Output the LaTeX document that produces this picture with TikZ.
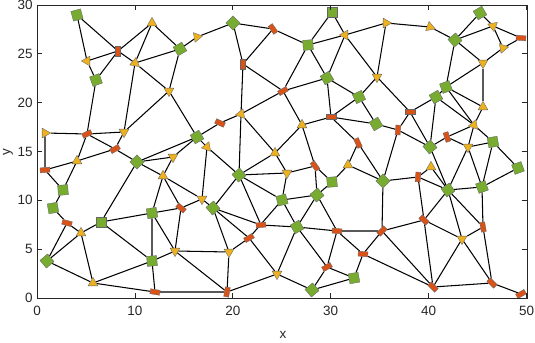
\documentclass[tikz,border=0pt]{standalone}
\usepackage{fontspec}
\setmainfont{Liberation Sans}
\usetikzlibrary{shapes.geometric,backgrounds}

\definecolor{mgreen}{rgb}{0.466,0.674,0.188}
\definecolor{mred}{rgb}{0.850,0.325,0.098}
\definecolor{myellow}{rgb}{0.929,0.694,0.125}
\definecolor{axgray}{rgb}{0.15,0.15,0.15}

\begin{document}
\begin{tikzpicture}[
        x=0.03cm, y=-0.03cm,
        gsq/.style={
            rectangle,
            draw=black!60,
            fill=mgreen,
            line width=0.3pt,
            minimum size=0.3cm,
            inner sep=0pt
        },
        rbox/.style={
            rectangle,
            draw=black!60,
            fill=mred,
            line width=0.3pt,
            minimum width=0.29cm,
            minimum height=0.15cm,
            inner sep=0pt
        },
        ytri/.style={
            regular polygon,
            regular polygon sides=3,
            draw=black!60,
            fill=myellow,
            line width=0.3pt,
            minimum size=0.34cm,
            inner sep=0pt
        },
        edge/.style={line width=0.9pt},
        axis/.style={axgray, line width=0.65pt},
        ticklab/.style={font=\fontsize{11.5}{13}\selectfont, text=axgray, inner sep=1pt}
    ]
    \useasboundingbox (0,0) rectangle (535,343);

    % Nodos verdes
    \node[gsq, rotate=15] (g1)  at (77,15)   {};
    \node[gsq, rotate=30] (g2)  at (180,49)  {};
    \node[gsq, rotate=20] (g3)  at (96,80)   {};
    \node[gsq, rotate=45] (g4)  at (233,23)  {};
    \node[gsq, rotate=0]  (g5)  at (332,12)  {};
    \node[gsq, rotate=5]  (g6)  at (308,45)  {};
    \node[gsq, rotate=30] (g7)  at (327,78)  {};
    \node[gsq, rotate=25] (g8)  at (359,97)  {};
    \node[gsq, rotate=30] (g9)  at (376,124) {};
    \node[gsq, rotate=30] (g10) at (480,13)  {};
    \node[gsq, rotate=40] (g11) at (455,40)  {};
    \node[gsq, rotate=20] (g12) at (446,87)  {};
    \node[gsq, rotate=30] (g13) at (436,97)  {};
    \node[gsq, rotate=10] (g14) at (493,142) {};
    \node[gsq, rotate=40] (g15) at (430,147) {};
    \node[gsq, rotate=20] (g16) at (518,168) {};
    \node[gsq, rotate=35] (g17) at (448,190) {};
    \node[gsq, rotate=20] (g18) at (482,187) {};
    \node[gsq, rotate=45] (g19) at (383,181) {};
    \node[gsq, rotate=5]  (g20) at (332,182) {};
    \node[gsq, rotate=40] (g21) at (317,195) {};
    \node[gsq, rotate=15] (g22) at (282,200) {};
    \node[gsq, rotate=40] (g23) at (239,175) {};
    \node[gsq, rotate=30] (g24) at (197,137) {};
    \node[gsq, rotate=45] (g25) at (137,162) {};
    \node[gsq, rotate=5]  (g26) at (63,190)  {};
    \node[gsq, rotate=10] (g27) at (53,208)  {};
    \node[gsq, rotate=0]  (g28) at (101,222) {};
    \node[gsq, rotate=10] (g29) at (152,213) {};
    \node[gsq, rotate=40] (g30) at (213,208) {};
    \node[gsq, rotate=40] (g31) at (47,261)  {};
    \node[gsq, rotate=5]  (g32) at (152,261) {};
    \node[gsq, rotate=30] (g33) at (297,227) {};
    \node[gsq, rotate=10] (g34) at (354,278) {};
    \node[gsq, rotate=40] (g35) at (312,290) {};

    % Nodos rojos
    \node[rbox, rotate=90]  (r1)  at (118,51)  {};
    \node[rbox, rotate=-55] (r2)  at (273,29)  {};
    \node[rbox, rotate=90]  (r3)  at (243,64)  {};
    \node[rbox, rotate=30]  (r4)  at (283,91)  {};
    \node[rbox, rotate=0]   (r5)  at (331,117) {};
    \node[rbox, rotate=0]   (r6)  at (410,112) {};
    \node[rbox, rotate=-5]  (r7)  at (521,38)  {};
    \node[rbox, rotate=85]  (r8)  at (398,130) {};
    \node[rbox, rotate=-72] (r9)  at (447,137) {};
    \node[rbox, rotate=-65] (r10) at (358,143) {};
    \node[rbox, rotate=-55] (r11) at (315,166) {};
    \node[rbox, rotate=85]  (r12) at (418,177) {};
    \node[rbox, rotate=-25] (r13) at (220,123) {};
    \node[rbox, rotate=25]  (r14) at (87,134)  {};
    \node[rbox, rotate=30]  (r15) at (115,149) {};
    \node[rbox, rotate=5]   (r16) at (45,170)  {};
    \node[rbox, rotate=-15] (r17) at (67,223)  {};
    \node[rbox, rotate=-40] (r18) at (181,208) {};
    \node[rbox, rotate=-10] (r19) at (155,292) {};
    \node[rbox, rotate=5]   (r20) at (261,225) {};
    \node[rbox, rotate=30]  (r21) at (249,238) {};
    \node[rbox, rotate=80]  (r22) at (227,292) {};
    \node[rbox, rotate=-5]  (r23) at (337,231) {};
    \node[rbox, rotate=-5]  (r24) at (363,254) {};
    \node[rbox, rotate=30]  (r25) at (327,267) {};
    \node[rbox, rotate=45]  (r26) at (382,231) {};
    \node[rbox, rotate=-45] (r27) at (424,220) {};
    \node[rbox, rotate=-80] (r28) at (483,227) {};
    \node[rbox, rotate=-45] (r29) at (433,287) {};
    \node[rbox, rotate=-45] (r30) at (492,283) {};
    \node[rbox, rotate=30]  (r31) at (521,294) {};

    % Nodos amarillos
    \node[ytri, rotate=0]   (y1)  at (152,23)  {};
    \node[ytri, rotate=160] (y2)  at (197,37)  {};
    \node[ytri, rotate=90]  (y3)  at (87,61)   {};
    \node[ytri, rotate=110] (y4)  at (135,63)  {};
    \node[ytri, rotate=180] (y5)  at (169,91)  {};
    \node[ytri, rotate=-30] (y6)  at (345,35)  {};
    \node[ytri, rotate=180] (y7)  at (377,77)  {};
    \node[ytri, rotate=150] (y8)  at (386,23)  {};
    \node[ytri, rotate=10]  (y9)  at (430,27)  {};
    \node[ytri, rotate=190] (y10) at (493,26)  {};
    \node[ytri, rotate=40]  (y11) at (503,48)  {};
    \node[ytri, rotate=60]  (y12) at (483,63)  {};
    \node[ytri, rotate=0]   (y13) at (483,107) {};
    \node[ytri, rotate=-20] (y14) at (474,125) {};
    \node[ytri, rotate=180] (y15) at (468,147) {};
    \node[ytri, rotate=0]   (y16) at (431,167) {};
    \node[ytri, rotate=0]   (y17) at (348,165) {};
    \node[ytri, rotate=0]   (y18) at (302,125) {};
    \node[ytri, rotate=0]   (y19) at (275,153) {};
    \node[ytri, rotate=180] (y20) at (287,173) {};
    \node[ytri, rotate=100] (y21) at (241,114) {};
    \node[ytri, rotate=-20] (y22) at (207,147) {};
    \node[ytri, rotate=150] (y23) at (45,133)  {};
    \node[ytri, rotate=180] (y24) at (124,132) {};
    \node[ytri, rotate=180] (y25) at (173,157) {};
    \node[ytri, rotate=0]   (y26) at (77,161)  {};
    \node[ytri, rotate=0]   (y27) at (163,176) {};
    \node[ytri, rotate=180] (y28) at (202,199) {};
    \node[ytri, rotate=0]   (y29) at (81,233)  {};
    \node[ytri, rotate=180] (y30) at (175,251) {};
    \node[ytri, rotate=0]   (y31) at (93,283)  {};
    \node[ytri, rotate=180] (y32) at (229,252) {};
    \node[ytri, rotate=180] (y33) at (277,274) {};
    \node[ytri, rotate=180] (y34) at (462,239) {};

    % Aristas
    \begin{pgfonlayer}{background}
    \draw[edge] (g1) -- (r1) (g1) -- (y3);
    \draw[edge] (y3) -- (r1) (y3) -- (g3);
    \draw[edge] (r1) -- (g3) (r1) -- (y4) (r1) -- (y1);
    \draw[edge] (y1) -- (y4) (y1) -- (g2);
    \draw[edge] (g2) -- (y4) (g2) -- (y5) (g2) -- (y2);
    \draw[edge] (y4) -- (y5) (y4) -- (y24);
    \draw[edge] (y5) -- (y24) (y5) -- (g24);
    \draw[edge] (g3) -- (r14);
    \draw[edge] (y2) -- (g4);
    \draw[edge] (g4) -- (r2) (g4) -- (r3);
    \draw[edge] (r2) -- (r3) (r2) -- (g6);
    \draw[edge] (g5) -- (g6) (g5) -- (y6);
    \draw[edge] (g6) -- (y6) (g6) -- (g7) (g6) -- (r4);
    \draw[edge] (y6) -- (g7) (y6) -- (y7) (y6) -- (y8);
    \draw[edge] (r3) -- (r4) (r3) -- (y21);
    \draw[edge] (r4) -- (y21) (r4) -- (y18) (r4) -- (g7);
    \draw[edge] (g7) -- (g8) (g7) -- (r5);
    \draw[edge] (g8) -- (r5) (g8) -- (y7) (g8) -- (g9);
    \draw[edge] (y7) -- (r6) (y8) -- (y9) (y8) -- (y7);
    \draw[edge] (y9) -- (g11);
    \draw[edge] (g10) -- (g11) (g10) -- (y10);
    \draw[edge] (g11) -- (y10) (g11) -- (y12) (g11) -- (g12);
    \draw[edge] (y10) -- (r7) (y10) -- (y11);
    \draw[edge] (y11) -- (r7) (y11) -- (y12);
    \draw[edge] (g12) -- (y12) (g12) -- (g13) (g12) -- (y14) (g12) -- (y13);
    \draw[edge] (y12) -- (y13) (y13) -- (y14);
    \draw[edge] (g13) -- (r6) (g13) -- (y14) (g13) -- (g15);
    \draw[edge] (r6) -- (r8) (r6) -- (g15);
    \draw[edge] (y14) -- (r9) (y14) -- (y15) (y14) -- (g14);
    \draw[edge] (r9) -- (g15) (r9) -- (y15);
    \draw[edge] (y15) -- (g14) (y15) -- (g17) (y15) -- (g18);
    \draw[edge] (g14) -- (g16) (g14) -- (g18) (g16) -- (g18);
    \draw[edge] (g15) -- (r8) (g15) -- (g17);
    \draw[edge] (r5) -- (g9) (r5) -- (r10) (r5) -- (y18);
    \draw[edge] (g9) -- (r8) (r8) -- (g19);
    \draw[edge] (r10) -- (y17) (r10) -- (g19);
    \draw[edge] (y17) -- (g20) (y17) -- (g19);
    \draw[edge] (r11) -- (g20) (r11) -- (y20) (r11) -- (g21) (r11) -- (y18);
    \draw[edge] (g19) -- (r12) (g19) -- (r26);
    \draw[edge] (r12) -- (y16) (r12) -- (r27) (r12) -- (g17);
    \draw[edge] (y16) -- (g17);
    \draw[edge] (g17) -- (g18) (g17) -- (r27) (g17) -- (r28) (g17) -- (y34);
    \draw[edge] (g18) -- (r28);
    \draw[edge] (r26) -- (r27) (r26) -- (r29) (r26) -- (r23) (r26) -- (r24);
    \draw[edge] (r27) -- (y34) (r27) -- (r29);
    \draw[edge] (y34) -- (r28) (y34) -- (r29) (y34) -- (r30);
    \draw[edge] (r28) -- (r30) (r29) -- (r30) (r29) -- (r24) (r30) -- (r31);
    \draw[edge] (r13) -- (y21) (r13) -- (g24);
    \draw[edge] (y21) -- (g23) (y21) -- (y19);
    \draw[edge] (y19) -- (y18) (y19) -- (g23) (y19) -- (y20);
    \draw[edge] (y20) -- (g23) (y20) -- (g22);
    \draw[edge] (g22) -- (g21) (g22) -- (g23) (g22) -- (g33) (g22) -- (r21);
    \draw[edge] (g21) -- (g20) (g21) -- (r23) (g21) -- (g33);
    \draw[edge] (g23) -- (y22) (g23) -- (g30) (g23) -- (r20);
    \draw[edge] (g24) -- (y22) (g24) -- (g25) (g24) -- (y25);
    \draw[edge] (y22) -- (y28);
    \draw[edge] (g33) -- (r20) (g33) -- (r23) (g33) -- (y33) (g33) -- (r25);
    \draw[edge] (r23) -- (r25) (r23) -- (r24);
    \draw[edge] (r25) -- (g34) (r25) -- (g35);
    \draw[edge] (g34) -- (g35) (g34) -- (r24);
    \draw[edge] (y33) -- (g35) (y33) -- (r21) (y33) -- (r22);
    \draw[edge] (r20) -- (g30) (r21) -- (g30) (r21) -- (y32);
    \draw[edge] (y32) -- (g30) (y32) -- (r22) (y32) -- (y30);
    \draw[edge] (r22) -- (y30) (r22) -- (r19);
    \draw[edge] (y23) -- (r14) (y23) -- (r16);
    \draw[edge] (r14) -- (y24) (r14) -- (r15) (r14) -- (y26);
    \draw[edge] (y24) -- (r15);
    \draw[edge] (r15) -- (g25) (r15) -- (y26);
    \draw[edge] (y26) -- (r16) (y26) -- (g26);
    \draw[edge] (r16) -- (g26) (g26) -- (g27);
    \draw[edge] (g25) -- (y25) (g25) -- (y27) (g25) -- (g28);
    \draw[edge] (y25) -- (y27);
    \draw[edge] (y27) -- (y28) (y27) -- (r18) (y27) -- (g29);
    \draw[edge] (y28) -- (r18) (y28) -- (g30);
    \draw[edge] (r18) -- (g29) (r18) -- (y30);
    \draw[edge] (g29) -- (g28) (g29) -- (g32) (g29) -- (y30);
    \draw[edge] (g27) -- (r17);
    \draw[edge] (r17) -- (y29) (r17) -- (g31);
    \draw[edge] (y29) -- (g31) (y29) -- (g28) (y29) -- (y31);
    \draw[edge] (g31) -- (y31) (g28) -- (g32) (y30) -- (g32);
    \draw[edge] (g32) -- (y31) (g32) -- (r19) (y31) -- (r19);
    \end{pgfonlayer}

    % Ejes
    \draw[axis] (37,5) rectangle (527,298);
    \foreach \v [count=\i from 0] in {0,10,20,30,40,50} {
        \draw[axis] (37+97.9*\i,298) -- ++(0,-5);
        \draw[axis] (37+97.9*\i,5) -- ++(0,5);
        \node[ticklab, anchor=north] (xl\i) at (37+97.9*\i,305) {\v};
    }
    \foreach \v [count=\i from 0] in {0,5,10,15,20,25,30} {
        \draw[axis] (37,298-48.83*\i) -- ++(5,0);
        \draw[axis] (527,298-48.83*\i) -- ++(-5,0);
        \node[ticklab, anchor=east] (yl\i) at (34,298-48.83*\i) {\v};
    }
    \node[ticklab] (xlab) at (283,335) {x};
    \node[ticklab, rotate=90] (ylab) at (8,152) {y};

\end{tikzpicture}
\end{document}
